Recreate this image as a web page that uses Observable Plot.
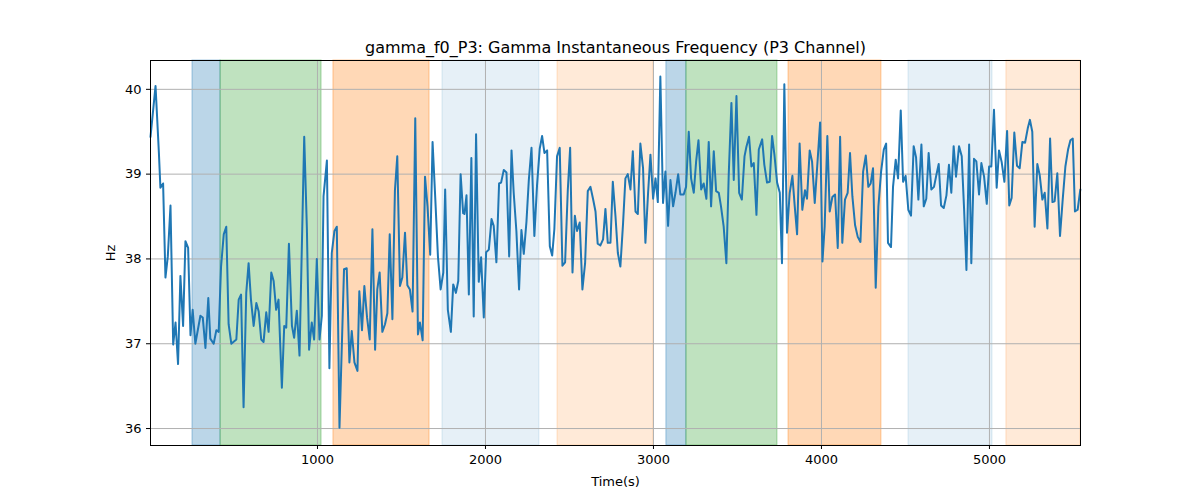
<!DOCTYPE html>
<html><head><meta charset="utf-8">
<script src="https://cdn.jsdelivr.net/npm/d3@7"></script>
<script src="https://cdn.jsdelivr.net/npm/@observablehq/plot@0.6"></script>
<style>body{margin:0;background:#fff;font-family:"DejaVu Sans",sans-serif}</style>
</head><body><div id="c"></div>
<script>
const times=[6,36,56,65,81,95,109,125,141,155,170,184,200,214,230,244,257,273,303,317,333,350,362,382,398,412,426,442,457,471,487,517,531,545,560,576,590,604,620,636,650,665,679,695,709,725,739,754,768,788,802,814,830,848,861,877,893,921,937,950,966,980,996,1012,1026,1036,1056,1071,1085,1101,1115,1131,1158,1174,1190,1204,1220,1238,1249,1265,1279,1295,1311,1327,1343,1356,1370,1386,1402,1416,1430,1446,1461,1475,1491,1505,1521,1535,1550,1566,1582,1598,1610,1626,1640,1655,1671,1685,1701,1717,1733,1749,1760,1776,1794,1808,1824,1838,1852,1867,1875,1887,1901,1916,1930,1944,1960,1974,1990,2004,2020,2036,2049,2065,2081,2093,2109,2125,2141,2155,2168,2184,2200,2214,2228,2244,2258,2274,2291,2307,2323,2337,2351,2367,2383,2397,2410,2426,2442,2458,2474,2490,2504,2518,2532,2545,2561,2577,2593,2609,2625,2641,2655,2668,2684,2700,2714,2728,2744,2758,2774,2788,2803,2819,2833,2847,2863,2877,2893,2907,2922,2938,2952,2968,2982,2998,3012,3026,3041,3057,3071,3087,3101,3117,3131,3147,3160,3180,3194,3210,3224,3240,3254,3268,3284,3299,3315,3329,3343,3359,3373,3389,3402,3418,3434,3448,3464,3478,3494,3510,3526,3542,3553,3569,3583,3597,3613,3627,3647,3660,3676,3692,3706,3720,3736,3752,3765,3779,3795,3811,3827,3841,3855,3870,3886,3902,3914,3930,3944,3960,3976,3992,4006,4019,4035,4049,4065,4081,4097,4111,4124,4140,4156,4170,4184,4200,4216,4232,4248,4264,4279,4293,4307,4323,4339,4355,4371,4385,4396,4414,4426,4442,4456,4472,4486,4501,4517,4533,4549,4563,4577,4595,4609,4624,4638,4654,4670,4684,4698,4712,4728,4744,4759,4773,4787,4801,4819,4835,4849,4863,4879,4892,4908,4922,4938,4952,4968,4984,4998,5011,5027,5043,5057,5073,5089,5105,5118,5132,5148,5164,5180,5196,5212,5228,5241,5255,5269,5285,5299,5315,5329,5345,5361,5375,5388,5404,5420,5436,5452,5468,5482,5496,5509,5525,5541];
const hz=[39.44,40.04,39.25,38.84,38.89,37.78,38.03,38.63,36.99,37.25,36.76,37.80,37.21,38.21,38.13,37.10,37.40,37.00,37.33,37.31,36.95,37.54,37.06,37.00,37.16,37.14,37.91,38.29,38.38,37.23,37.00,37.05,37.52,37.58,36.25,37.60,37.95,37.52,37.21,37.48,37.38,37.05,37.02,37.37,37.14,37.84,37.74,37.40,37.52,36.48,37.21,37.19,38.18,37.21,37.07,37.39,36.86,39.44,38.35,36.93,37.25,37.05,38.00,37.05,37.33,38.74,39.16,36.71,38.07,38.33,38.38,36.01,37.88,37.89,36.78,37.15,36.78,36.68,37.62,37.16,37.68,37.31,37.05,38.35,36.93,37.64,37.84,37.14,37.23,37.36,38.29,37.29,38.81,39.21,37.68,37.78,38.31,37.69,37.64,37.38,39.66,37.11,37.25,37.04,38.97,38.62,38.05,39.38,38.72,38.03,37.64,37.84,38.82,37.40,37.14,37.70,37.60,37.74,39.00,38.54,38.53,38.75,37.58,39.19,37.32,39.47,37.73,38.02,37.31,38.08,38.11,38.47,38.39,37.96,38.89,38.90,39.05,39.02,38.03,39.28,38.78,38.33,37.64,38.34,38.06,38.44,38.93,39.31,38.27,38.87,39.30,39.45,39.25,39.28,38.15,38.04,38.35,39.21,39.31,37.92,37.96,38.81,39.31,37.84,38.51,38.33,38.43,37.64,37.95,38.80,38.85,38.70,38.56,38.18,38.16,38.23,38.59,38.19,38.19,38.91,38.50,38.07,37.91,38.42,38.95,39.00,38.82,39.27,38.56,38.53,39.36,39.07,38.19,38.78,39.23,38.71,38.95,38.67,40.15,38.66,39.03,38.39,38.93,38.62,38.78,39.00,38.76,38.76,38.85,39.50,38.95,38.78,39.15,39.40,38.82,38.89,38.71,39.38,38.62,39.27,38.80,38.78,38.62,38.38,37.95,38.99,39.84,38.93,39.92,38.78,38.70,39.21,39.32,39.44,39.09,39.13,38.52,39.29,39.41,39.11,38.90,38.91,39.45,39.23,38.90,38.78,37.95,40.06,38.31,38.78,38.98,38.62,38.29,39.36,38.58,38.81,38.71,39.28,39.15,38.66,39.13,39.61,37.97,38.38,39.45,38.56,38.73,38.76,38.13,39.44,38.19,38.70,38.78,39.25,38.74,38.40,38.26,38.20,39.03,39.22,38.85,38.89,39.07,37.66,38.62,39.03,39.29,39.36,38.19,38.14,38.85,39.17,38.95,39.75,38.91,38.98,38.58,38.51,39.33,39.20,38.70,39.35,38.62,38.71,39.25,38.82,38.85,38.99,39.12,38.63,38.60,38.75,39.11,38.78,39.33,38.97,39.33,39.21,38.59,37.87,39.35,37.95,39.18,39.15,38.76,39.13,38.97,38.65,39.09,39.09,39.76,38.84,39.28,39.14,38.91,39.51,38.63,38.72,39.49,39.10,39.07,39.38,39.37,39.54,39.64,39.50,38.38,39.12,38.99,38.70,38.78,38.36,39.42,38.67,38.68,39.01,38.27,38.70,39.09,39.29,39.40,39.42,38.56,38.58,38.82];
const spanStart=[256,423,1095,1744,2429,3077,3196,3804,4518,5101];
const spanEnd=[423,1024,1667,2321,3000,3196,3738,4357,5018,5542];
const spanColor=["#1f77b4","#2ca02c","#ff7f0e","#1f77b4","#ff7f0e","#1f77b4","#2ca02c","#ff7f0e","#1f77b4","#ff7f0e"];
const spanAlpha=[0.3,0.3,0.3,0.11,0.16,0.3,0.3,0.3,0.11,0.16];
const xTicks=[1000,2000,3000,4000,5000];
const yTicks=[36,37,38,39,40];
const title="gamma_f0_P3: Gamma Instantaneous Frequency (P3 Channel)";

const pts=times.map((t,i)=>({t,v:hz[i]}));
const spans=spanStart.map((s,i)=>({s,e:spanEnd[i],c:spanColor[i],a:spanAlpha[i]}));
const chart=Plot.plot({
  width:1200,height:500,marginTop:60,marginBottom:55,marginLeft:150,marginRight:120,
  style:{fontFamily:"DejaVu Sans",fontSize:"13px",color:"#000"},
  x:{domain:[6,5542],ticks:xTicks,tickSize:4,label:"Time(s)",labelArrow:"none",labelAnchor:"center",labelOffset:40,tickFormat:d=>String(d)},
  y:{domain:[35.8,40.34],ticks:yTicks,tickSize:4,label:"Hz",labelArrow:"none",labelAnchor:"center",labelOffset:45,tickFormat:d=>String(d)},
  marks:[
    Plot.rectX(spans,{x1:"s",x2:"e",y1:35.8,y2:40.34,fill:d=>d.c,fillOpacity:d=>d.a,stroke:d=>d.c,strokeOpacity:d=>d.a*1.3}),
    Plot.gridX(xTicks,{stroke:"#b0b0b0",strokeOpacity:1,strokeWidth:1}),
    Plot.gridY(yTicks,{stroke:"#b0b0b0",strokeOpacity:1,strokeWidth:1}),
    Plot.line(pts,{x:"t",y:"v",stroke:"#1f77b4",strokeWidth:2}),
    Plot.frame({stroke:"#000"}),
    Plot.text([title],{frameAnchor:"top",dy:-8,fontSize:16,lineAnchor:"bottom"})
  ]
});
document.getElementById("c").append(chart);
</script></body></html>
